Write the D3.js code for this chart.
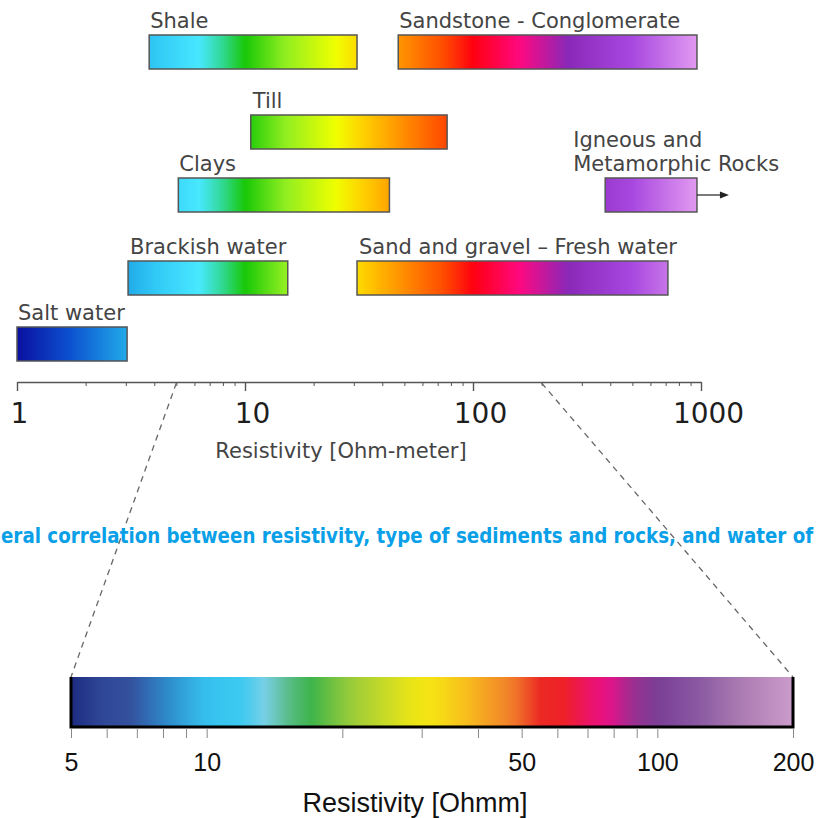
<!DOCTYPE html>
<html>
<head>
<meta charset="utf-8">
<script src="https://cdnjs.cloudflare.com/ajax/libs/d3/7.8.5/d3.min.js"></script>
<style>
  body { margin: 0; background: #fff; }
  svg { display: block; }
</style>
</head>
<body>
<svg id="chart" width="817" height="818"></svg>
<script>
// Rock / water types and their resistivity ranges (Ohm-m)
const rockNames = ["Shale", "Sandstone - Conglomerate", "Till", "Clays",
                   "Igneous and\nMetamorphic Rocks", "Brackish water",
                   "Sand and gravel \u2013 Fresh water", "Salt water"];
const rockLow  = [3.8, 47, 10.6, 5.1, 380, 3.07, 31, 1];
const rockHigh = [31, 960, 77, 43, 960, 15.4, 716, 3.04];
const rockRow  = [0, 0, 1, 2, 2, 3, 3, 4];
const rockOpenEnded = [false, false, false, false, true, false, false, false];

// top axis ticks
const topMajorTicks = [1, 10, 100, 1000];

// colour scale of the upper chart (value -> colour)
const topStopValues = [1, 1.7, 3, 4, 6.3, 8, 10, 15, 25, 33, 50, 75, 100, 160, 260, 500, 950];
const topStopColors = ["#0a10a0", "#0c50d0", "#20a8e8", "#30c8f5", "#48e8ff", "#30d890", "#18c808",
                       "#90ee20", "#f0ff00", "#ffd000", "#ff8c00", "#ff4a00", "#ff0010", "#ff0880",
                       "#8a28b8", "#a848e0", "#e098f0"];

// zoomed colour bar (5 - 200 Ohmm)
const zoomRange = [5, 200];
const zoomTicks = [5, 6, 7, 8, 9, 10, 20, 30, 40, 50, 60, 70, 80, 90, 100, 200];
const zoomTickLabels = [5, 10, 50, 100, 200];
const zoomStopValues = [5, 5.8, 6.8, 8.2, 10, 12, 13.5, 15, 17, 21, 29, 32, 38, 48, 55, 62, 70, 78, 88, 100, 126, 150, 200];
const zoomStopColors = ["#1c2a80", "#2f4696", "#34529e", "#2e8ccc", "#36c2ee", "#3ccaf2", "#7ad0e6",
                        "#5cbe90", "#3cb44a", "#9ccc3a", "#eee614", "#f6e214", "#f8bc1e", "#f07a2a",
                        "#ec2a24", "#ee2026", "#ea1464", "#e8108a", "#9a3090", "#7a3e96", "#8c5ca4",
                        "#a878b0", "#cc9ccc"];

const captionText = "General correlation between resistivity, type of sediments and rocks, and water of";

// ---- layout ----
const svg = d3.select('#chart');
const defs = svg.append('defs');

const rowTop = [35, 115, 178, 261, 327];
const barH = 34;
const labelDx = [1, 1, 2, 1, -32, 2, 2, 1];
const axisY = 382;
const zoomTop = 677, zoomBottom = 727;

const xTop = d3.scaleLog().domain([1, 1000]).range([17, 701]);
const xZoom = d3.scaleLog().domain(zoomRange).range([71, 793]);

const topColor = d3.scaleLog().domain(topStopValues).range(topStopColors)
    .interpolate(d3.interpolateRgb).clamp(true);
const zoomColor = d3.scaleLog().domain(zoomStopValues).range(zoomStopColors)
    .interpolate(d3.interpolateRgb).clamp(true);

// gradient along a log range, coloured by the colour scale
function addGradient(id, lo, hi, colorScale, xScale) {
    const grad = defs.append('linearGradient')
        .attr('id', id)
        .attr('gradientUnits', 'userSpaceOnUse')
        .attr('x1', xScale(lo)).attr('x2', xScale(hi))
        .attr('y1', 0).attr('y2', 0);
    const n = 60;
    d3.range(n + 1).forEach(i => {
        const t = i / n;
        const v = Math.pow(10, Math.log10(lo) + t * (Math.log10(hi) - Math.log10(lo)));
        grad.append('stop').attr('offset', t).attr('stop-color', colorScale(v));
    });
}

// ---- upper chart: range bars ----
const labelFont = '"DejaVu Sans", Verdana, sans-serif';

rockNames.forEach((name, i) => {
    const id = 'grad' + i;
    addGradient(id, rockLow[i], rockHigh[i], topColor, xTop);
    const y0 = rowTop[rockRow[i]];
    const x0 = xTop(rockLow[i]);
    const x1 = xTop(rockHigh[i]);

    svg.append('rect')
        .attr('x', x0).attr('y', y0)
        .attr('width', x1 - x0).attr('height', barH)
        .attr('fill', `url(#${id})`)
        .attr('stroke', '#555').attr('stroke-width', 1.5);

    const lines = name.split('\n');
    lines.forEach((line, j) => {
        svg.append('text')
            .attr('x', x0 + labelDx[i])
            .attr('y', y0 - 7 - (lines.length - 1 - j) * 24)
            .attr('font-family', labelFont)
            .attr('font-size', 21)
            .attr('fill', '#444')
            .text(line);
    });

    if (rockOpenEnded[i]) {
        const ym = y0 + barH / 2;
        svg.append('line')
            .attr('x1', x1).attr('x2', x1 + 25)
            .attr('y1', ym).attr('y2', ym)
            .attr('stroke', '#222').attr('stroke-width', 1.2);
        svg.append('path')
            .attr('d', `M${x1 + 32},${ym} L${x1 + 23},${ym - 3.5} L${x1 + 23},${ym + 3.5} Z`)
            .attr('fill', '#222');
    }
});

// ---- upper axis ----
const minorTicks = xTop.ticks().filter(d => !topMajorTicks.includes(d));
svg.append('g')
    .attr('transform', `translate(0,${axisY})`)
    .call(d3.axisBottom(xTop).tickValues(minorTicks).tickSize(4).tickSizeOuter(0).tickFormat(''))
    .call(g => g.select('.domain').remove())
    .call(g => g.selectAll('line').attr('stroke', '#555'));

const topAxis = svg.append('g')
    .attr('transform', `translate(0,${axisY})`)
    .call(d3.axisBottom(xTop).tickValues(topMajorTicks).tickSize(9).tickSizeOuter(0)
        .tickFormat(d3.format('d')));
topAxis.select('.domain').attr('stroke', '#555').attr('stroke-width', 1.6);
topAxis.selectAll('line').attr('stroke', '#555').attr('stroke-width', 1.4);
topAxis.selectAll('text')
    .attr('y', 21).attr('dx', d => d === 1 ? 2 : 7)
    .attr('font-family', labelFont)
    .attr('font-size', 28)
    .attr('fill', '#1e1e1e');

svg.append('text')
    .attr('x', 341).attr('y', 458)
    .attr('text-anchor', 'middle')
    .attr('font-family', labelFont)
    .attr('font-size', 21)
    .attr('fill', '#444')
    .text('Resistivity [Ohm-meter]');

// ---- dashed lines linking to the zoomed bar ----
[zoomRange[0], zoomRange[1]].forEach(v => {
    svg.append('line')
        .attr('x1', xTop(v)).attr('y1', axisY + 1)
        .attr('x2', xZoom(v)).attr('y2', zoomTop)
        .attr('stroke', '#666').attr('stroke-width', 1.3)
        .attr('stroke-dasharray', '6,5');
});

// ---- caption (runs off the left edge like in the source) ----
const caption = svg.append('text')
    .attr('font-family', '"DejaVu Sans Condensed", "Liberation Sans Narrow", "Liberation Sans", sans-serif')
    .attr('font-weight', 'bold')
    .attr('font-size', 17)
    .attr('fill', '#0aa0e8')
    .attr('y', 543)
    .text(captionText);
const probe = svg.append('text')
    .attr('font-family', caption.attr('font-family'))
    .attr('font-weight', 'bold')
    .attr('font-size', 17)
    .text('Gen');
let full = caption.node().getComputedTextLength();
let pre = probe.node().getComputedTextLength();
const fs = 17 * 813 / (full - pre);
caption.attr('font-size', fs);
probe.attr('font-size', fs);
pre = probe.node().getComputedTextLength();
probe.remove();
caption.attr('x', 1 - pre);

// ---- zoomed colour bar ----
addGradient('zoomGrad', zoomRange[0], zoomRange[1], zoomColor, xZoom);
svg.append('rect')
    .attr('x', xZoom(zoomRange[0])).attr('y', zoomTop)
    .attr('width', xZoom(zoomRange[1]) - xZoom(zoomRange[0]))
    .attr('height', zoomBottom - zoomTop)
    .attr('fill', 'url(#zoomGrad)');
svg.append('path')
    .attr('d', `M${xZoom(zoomRange[0])},${zoomTop} V${zoomBottom} H${xZoom(zoomRange[1])} V${zoomTop}`)
    .attr('fill', 'none')
    .attr('stroke', '#000').attr('stroke-width', 3);

const zoomAxis = svg.append('g')
    .attr('transform', `translate(0,${zoomBottom + 1})`)
    .call(d3.axisBottom(xZoom).tickValues(zoomTicks).tickSize(10).tickSizeOuter(0)
        .tickFormat(d => zoomTickLabels.includes(d) ? d : ''));
zoomAxis.select('.domain').remove();
zoomAxis.selectAll('line').attr('stroke', '#888');
zoomAxis.selectAll('text')
    .attr('y', 25)
    .attr('font-family', '"Liberation Sans", Arial, sans-serif')
    .attr('font-size', 25)
    .attr('fill', '#111');

svg.append('text')
    .attr('x', 415).attr('y', 812)
    .attr('text-anchor', 'middle')
    .attr('font-family', '"Liberation Sans", Arial, sans-serif')
    .attr('font-size', 27)
    .attr('fill', '#111')
    .text('Resistivity [Ohmm]');
</script>
</body>
</html>
